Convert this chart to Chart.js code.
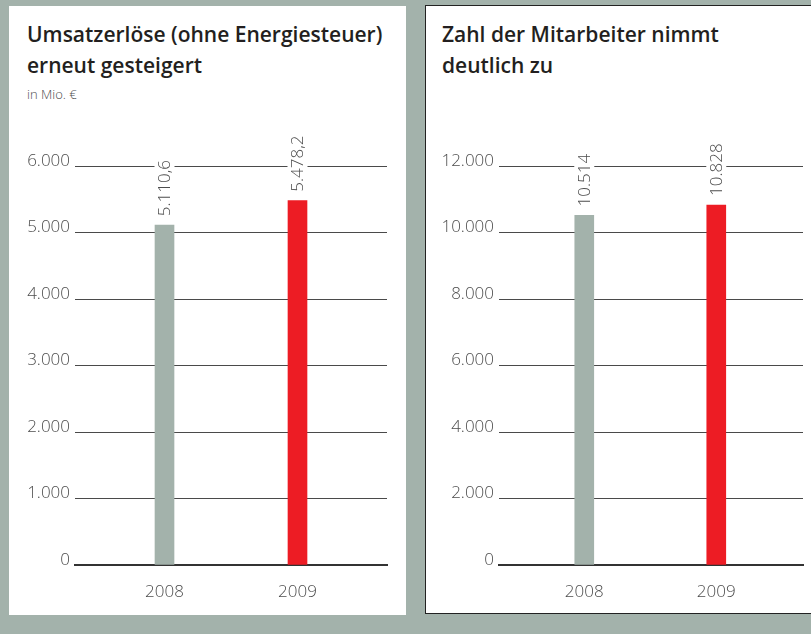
<!DOCTYPE html>
<html><head><meta charset="utf-8">
<script src="https://cdn.jsdelivr.net/npm/chart.js@4.4.1/dist/chart.umd.min.js"></script>
<style>
body{margin:0;width:811px;height:634px;background:#a3b2ab;position:relative;overflow:hidden;font-family:"Open Sans",sans-serif;}
.panel{position:absolute;background:#fff;box-sizing:border-box;}
#p1{left:9px;top:6px;width:397px;height:609px;}
#p2{left:425px;top:5px;width:400px;height:609px;border:1.5px solid #222;}
.title{position:absolute;font-weight:600;font-size:21px;line-height:31px;color:#231f20;white-space:nowrap;}
.sub{position:absolute;font-size:13px;color:#4d4d4d;font-weight:300;white-space:nowrap;}
canvas{position:absolute;}
#c1{left:9px;top:6px;}
#c2{left:427px;top:7px;}
</style>
</head><body>
<div class="panel" id="p1"></div>
<div class="panel" id="p2"></div>
<div class="title" style="left:27px;top:19px;">Umsatzerlöse (ohne Energiesteuer)<br>erneut gesteigert</div>
<div class="sub" style="left:27px;top:85px;">in Mio. €</div>
<div class="title" style="left:442px;top:19px;">Zahl der Mitarbeiter nimmt<br>deutlich zu</div>
<canvas id="c1" width="397" height="609"></canvas>
<canvas id="c2" width="384" height="606"></canvas>
<script>
const years = [2008, 2009];
const revenue = [5110.6, 5478.2];
const employees = [10514, 10828];
const revenueTickValues = [0, 1000, 2000, 3000, 4000, 5000, 6000];
const employeeTickValues = [0, 2000, 4000, 6000, 8000, 10000, 12000];
const barColors = ['#a3b2ab', '#ed1c24'];

function de(v, d) {
  const s = v.toFixed(d).split('.');
  s[0] = s[0].replace(/\B(?=(\d{3})+(?!\d))/g, '.');
  return s.join(',');
}

const FONT = '"Open Sans", sans-serif';
const TEXT = '#4d4d4d';

const valueLabels = {
  id: 'valueLabels',
  afterDatasetsDraw(chart, args, opts) {
    const ctx = chart.ctx;
    const meta = chart.getDatasetMeta(0);
    meta.data.forEach((bar, i) => {
      const txt = opts.texts[i];
      ctx.save();
      ctx.font = '300 17px ' + FONT;
      const w = ctx.measureText(txt).width;
      ctx.translate(bar.x, bar.y - opts.offset);
      ctx.rotate(-Math.PI / 2);
      ctx.fillStyle = '#fff';
      ctx.fillRect(-3, -10, w + 6, 20);
      ctx.fillStyle = TEXT;
      ctx.textAlign = 'left';
      ctx.textBaseline = 'middle';
      ctx.fillText(txt, 0, 1);
      ctx.restore();
    });
  }
};

function makeChart(id, values, tickValues, decimals, yWidth, xHeight, pad, xMin, xMax) {
  return new Chart(document.getElementById(id), {
    type: 'bar',
    data: {
      datasets: [{
        data: years.map((y, i) => ({ x: y, y: values[i] })),
        backgroundColor: barColors,
        barThickness: 19,
        borderWidth: 0
      }]
    },
    options: {
      responsive: false,
      animation: false,
      layout: { padding: pad },
      plugins: {
        legend: { display: false },
        tooltip: { enabled: false },
        valueLabels: { texts: values.map(v => de(v, decimals)), offset: 9 }
      },
      scales: {
        x: {
          type: 'linear',
          offset: false,
          min: xMin, max: xMax,
          afterBuildTicks: s => { s.ticks = years.map(v => ({ value: v })); },
          afterFit: s => { s.height = xHeight; },
          grid: { display: false, drawTicks: false, offset: false },
          border: { display: true, color: '#333', width: 2 },
          ticks: {
            callback: v => String(v),
            color: TEXT, padding: 17,
            font: { family: FONT, size: 17, weight: 300 },
            maxRotation: 0
          }
        },
        y: {
          min: tickValues[0], max: tickValues[tickValues.length - 1],
          afterBuildTicks: s => { s.ticks = tickValues.map(v => ({ value: v })); },
          afterFit: s => { s.width = yWidth; },
          grid: {
            drawTicks: false,
            color: c => c.tick && c.tick.value === 0 ? 'rgba(0,0,0,0)' : '#4a4a4a',
            lineWidth: 1
          },
          border: { display: false },
          ticks: {
            callback: v => de(v, 0),
            color: TEXT, padding: 5, labelOffset: -5,
            font: { family: FONT, size: 17, weight: 300 }
          }
        }
      }
    },
    plugins: [valueLabels]
  });
}

makeChart('c1', revenue, revenueTickValues, 1, 66, 50, { top: 160, right: 19, left: 0, bottom: 0 }, 2007.327, 2009.673);
makeChart('c2', employees, employeeTickValues, 0, 72, 48, { top: 159, right: 8, left: 0, bottom: 0 }, 2007.354, 2009.657);
</script>
</body></html>
